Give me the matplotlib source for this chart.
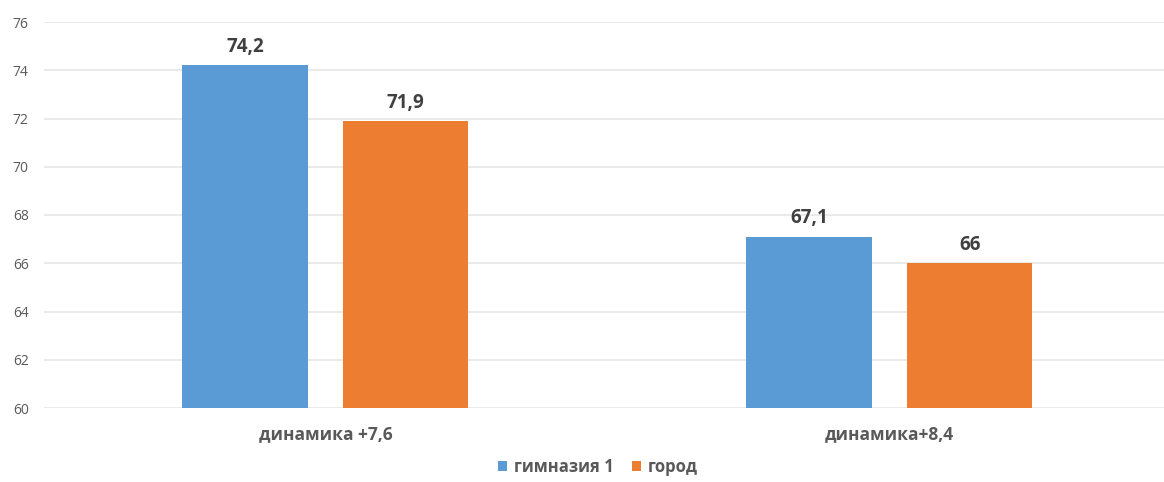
import matplotlib
matplotlib.use("Agg")
import matplotlib.pyplot as plt
import numpy as np

categories = ["динамика +7,6", "динамика+8,4"]
series_names = ["гимназия 1", "город"]
gymnasium = [74.2, 67.1]
city = [71.9, 66.0]
labels_gym = ["74,2", "67,1"]
labels_city = ["71,9", "66"]
yticks = [60, 62, 64, 66, 68, 70, 72, 74, 76]

colors = ["#5B9BD5", "#ED7D31"]
plt.rcParams['font.family'] = ['Open Sans', 'DejaVu Sans']

W, H = 1164, 482
fig = plt.figure(figsize=(W / 100, H / 100), dpi=100)
ax = fig.add_axes([44 / W, 1 - 408 / H, 1 - 44 / W, (408 - 22) / H])

x = np.arange(len(categories))
bw = 0.222
off = 0.1425
b1 = ax.bar(x - off, gymnasium, bw, color=colors[0], label=series_names[0], zorder=3)
b2 = ax.bar(x + off, city, bw, color=colors[1], label=series_names[1], zorder=3)

for bars, labs in ((b1, labels_gym), (b2, labels_city)):
    for r, t in zip(bars, labs):
        ax.annotate(t, (r.get_x() + r.get_width() / 2, r.get_height()),
                    xytext=(0, 6), textcoords="offset points", ha="center", va="bottom",
                    fontsize=13.5, fontweight="bold", color="#404040")

ax.set_ylim(60, 76)
ax.set_xlim(-0.499, 1.487)
ax.set_yticks(yticks)
ax.set_yticklabels([str(v) for v in yticks], fontsize=10, color="#595959")
ax.set_xticks(x)
ax.set_xticklabels(categories, fontsize=12.5, fontweight="bold", color="#595959")
ax.tick_params(axis="both", length=0)
ax.tick_params(axis="x", pad=12)
ax.tick_params(axis="y", pad=11)
for s in ax.spines.values():
    s.set_visible(False)
ax.yaxis.grid(True, color="#E6E6E6", linewidth=1.2, zorder=0)
ax.set_axisbelow(True)

leg = fig.legend(handles=[b1, b2], labels=series_names, loc="center",
                 bbox_to_anchor=(598 / W, 1 - 467 / H), ncol=2, frameon=False,
                 handlelength=0.55, handleheight=0.55, handletextpad=0.4, columnspacing=1.1,
                 prop={"size": 12, "weight": "bold"})
for t in leg.get_texts():
    t.set_color("#595959")

fig.savefig("out.png", dpi=100, facecolor="white")
